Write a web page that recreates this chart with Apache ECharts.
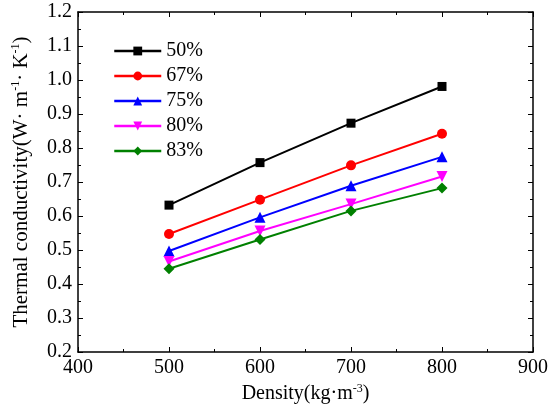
<!DOCTYPE html>
<html><head><meta charset="utf-8">
<script src="https://cdn.jsdelivr.net/npm/echarts@6/dist/echarts.min.js"></script>
<style>html,body{margin:0;padding:0;background:#fff}#c{width:554px;height:416px}</style>
</head><body><div id="c"></div>
<script>
const densities = [500, 600, 700, 800];
const s50 = [0.632, 0.757, 0.873, 0.981];
const s67 = [0.547, 0.648, 0.749, 0.842];
const s75 = [0.497, 0.596, 0.689, 0.774];
const s80 = [0.466, 0.556, 0.635, 0.716];
const s83 = [0.445, 0.531, 0.615, 0.682];
const seriesNames = ['50%', '67%', '75%', '80%', '83%'];
const seriesColors = ['#000000', '#ff0000', '#0000ff', '#ff00ff', '#008000'];
const seriesSymbols = ['rect', 'circle', 'triangle', 'path://M0,0 L10,0 L5,9 Z', 'diamond'];
const seriesSizes = [9, 10, 11, 11, 11];
const allData = [s50, s67, s75, s80, s83];

const FONT = 'Liberation Serif';
const axisLineStyle = {color: '#000', width: 1.5};
const chart = echarts.init(document.getElementById('c'));
const series = allData.map((d, i) => ({
  name: seriesNames[i], type: 'line',
  data: densities.map((x, j) => [x, d[j]]),
  symbol: seriesSymbols[i], symbolSize: seriesSizes[i],
  lineStyle: {color: seriesColors[i], width: 2},
  itemStyle: {color: seriesColors[i]},
  emphasis: {disabled: true}
}));
const supRich = {sup: {fontFamily: FONT, fontSize: 12, verticalAlign: 'top', padding: [0, 0, 10, 0]}};
chart.setOption({
  animation: false,
  textStyle: {fontFamily: FONT},
  grid: {left: 78, right: 21, top: 12, bottom: 64},
  legend: {
    orient: 'vertical', left: 108, top: 36, itemWidth: 47, itemHeight: 11, itemGap: 5,
    lineStyle: {width: 2.5},
    textStyle: {fontFamily: FONT, fontSize: 20, color: '#000'},
    data: seriesNames
  },
  xAxis: [{
    type: 'value', min: 400, max: 900, interval: 100, position: 'bottom',
    name: 'Density(kg·m{sup|-3})', nameLocation: 'middle', nameGap: 30,
    nameTextStyle: {fontFamily: FONT, fontSize: 20, color: '#000', rich: supRich},
    axisLine: {lineStyle: axisLineStyle},
    axisTick: {inside: true, length: 5, lineStyle: {color: '#000'}},
    minorTick: {show: true, splitNumber: 2, length: 3, lineStyle: {color: '#000'}},
    splitLine: {show: false},
    axisLabel: {fontFamily: FONT, fontSize: 20, color: '#000', margin: 6}
  }, {
    type: 'value', min: 400, max: 900, interval: 100, position: 'top',
    axisLine: {show: true, onZero: false, lineStyle: axisLineStyle},
    axisTick: {inside: true, length: 5, lineStyle: {color: '#000'}},
    minorTick: {show: true, splitNumber: 2, length: 3, lineStyle: {color: '#000'}},
    splitLine: {show: false}, axisLabel: {show: false}
  }],
  yAxis: [{
    type: 'value', min: 0.2, max: 1.2, interval: 0.1, position: 'left',
    name: 'Thermal conductivity(W· m{sup|-1}· K{sup|-1})', nameLocation: 'middle', nameGap: 46,
    nameTextStyle: {fontFamily: FONT, fontSize: 21, color: '#000', rich: supRich},
    axisLine: {lineStyle: axisLineStyle},
    axisTick: {inside: true, length: 5, lineStyle: {color: '#000'}},
    minorTick: {show: true, splitNumber: 2, length: 3, lineStyle: {color: '#000'}},
    splitLine: {show: false},
    axisLabel: {fontFamily: FONT, fontSize: 20, color: '#000', margin: 6, formatter: v => v.toFixed(1)}
  }, {
    type: 'value', min: 0.2, max: 1.2, interval: 0.1, position: 'right',
    axisLine: {show: true, onZero: false, lineStyle: axisLineStyle},
    axisTick: {inside: true, length: 5, lineStyle: {color: '#000'}},
    minorTick: {show: true, splitNumber: 2, length: 3, lineStyle: {color: '#000'}},
    splitLine: {show: false}, axisLabel: {show: false}
  }],
  series: series
});
</script></body></html>
